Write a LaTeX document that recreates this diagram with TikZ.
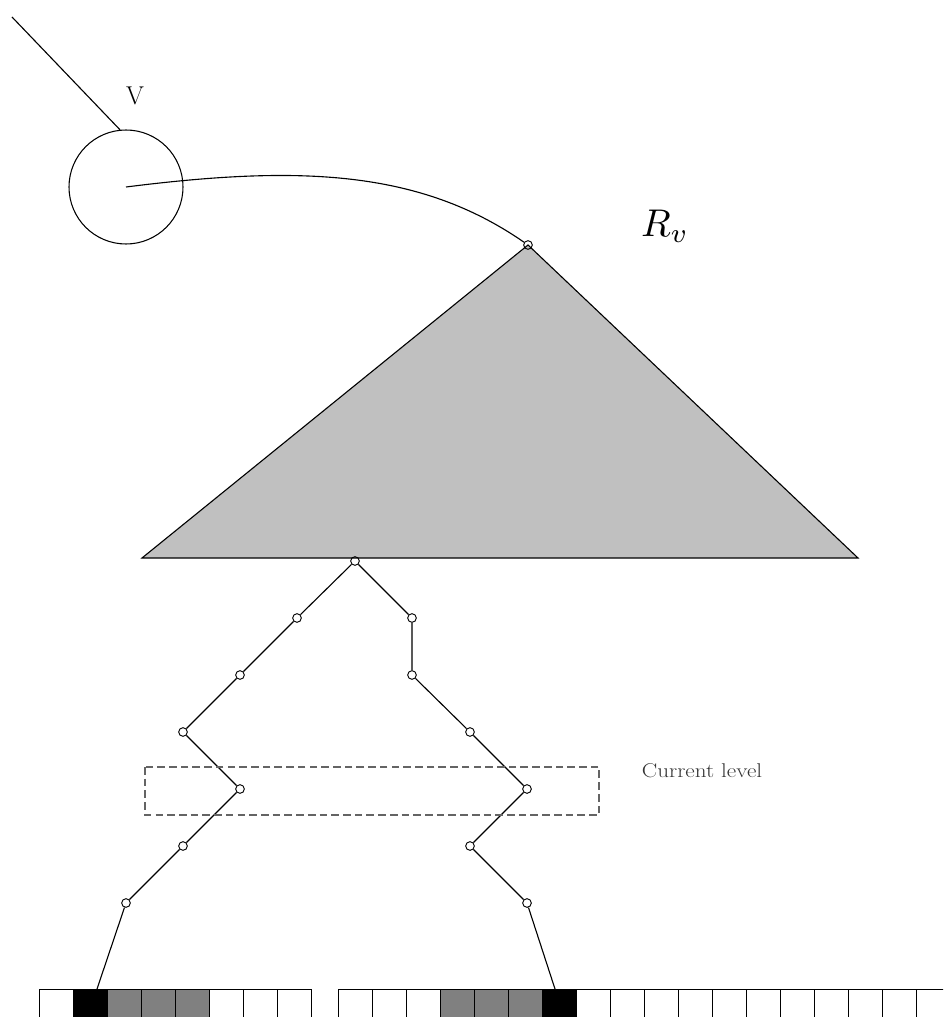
\documentclass[tikz,border=0pt]{standalone}
\usepackage{fontspec}
\definecolor{trigray}{RGB}{192,192,192}
\definecolor{cellgray}{RGB}{128,128,128}
\definecolor{dashgray}{RGB}{100,100,100}
\tikzset{
  dot/.style={circle,draw,line width=0.8pt,minimum size=0.26cm,inner sep=0pt},
  edge/.style={line width=0.95pt},
  cell/.style={draw,line width=0.8pt},
}
\begin{document}
\begin{tikzpicture}[x=0.03cm,y=-0.03cm]
\useasboundingbox (0,0) rectangle (943,1017);
\clip (0,0) rectangle (943,1017);
% triangle R_v
\filldraw[fill=trigray,edge] (528,245) -- (142,558) -- (858,558) -- cycle;
% big circle v
\node[circle,draw,line width=0.9pt,minimum size=3.42cm,inner sep=0pt] (v) at (126,187) {};
\coordinate (s) at (12,17);
\draw[edge] (s) -- (v.96);
\node (vlab) at (135,96) {\fontsize{22}{24}\selectfont V};
% dots
\node[dot] (rt) at (528,245) {};
\node[dot] (b0) at (355,561) {};
\node[dot] (l1) at (297,618) {};
\node[dot] (l2) at (240,675) {};
\node[dot] (l3) at (183,732) {};
\node[dot] (l4) at (240,789) {};
\node[dot] (l5) at (183,846) {};
\node[dot] (l6) at (126,903) {};
\node[dot] (r1) at (412,618) {};
\node[dot] (r2) at (412,675) {};
\node[dot] (r3) at (470,732) {};
\node[dot] (r4) at (527,789) {};
\node[dot] (r5) at (470,846) {};
\node[dot] (r6) at (527,903) {};
\coordinate (lb) at (97,989);
\coordinate (rb) at (555,989);
% curve
\draw[edge] (v.center) .. controls (300,165) and (420,170) .. (rt);
\node[scale=3.3] (rlab) at (665,226) {$R_v$};
% chains
\draw[edge] (b0) -- (l1) -- (l2) -- (l3) -- (l4) -- (l5) -- (l6) -- (lb);
\draw[edge] (b0) -- (r1) -- (r2) -- (r3) -- (r4) -- (r5) -- (r6) -- (rb);
% current level
\draw[dashgray,line width=1pt,dash pattern=on 6.5pt off 3.5pt] (145,767) rectangle (599,815);
\node[text=black!80,xscale=1.16] (cl) at (702,771) {\fontsize{17}{19}\selectfont Current level};
% arrays
\foreach \c [count=\i from 0] in {white,black,cellgray,cellgray,cellgray,white,white,white}
  \draw[cell,fill=\c] (39+34*\i,989) rectangle ++(34,40);
\foreach \c [count=\i from 0] in {white,white,white,cellgray,cellgray,cellgray,black,white,white,white,white,white,white,white,white,white,white,white}
  \draw[cell,fill=\c] (338.5+34*\i,989) rectangle ++(34,40);
\end{tikzpicture}
\end{document}
